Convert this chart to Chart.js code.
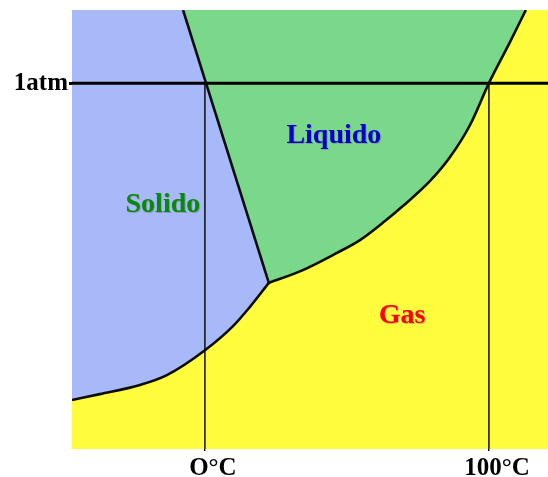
<!DOCTYPE html>
<html>
<head>
<meta charset="utf-8">
<script src="https://cdn.jsdelivr.net/npm/chart.js@4.4.1/dist/chart.umd.min.js"></script>
<style>
  html,body{margin:0;padding:0;background:#fff;}
  #wrap{width:548px;height:477px;}
</style>
</head>
<body>
<div id="wrap"><canvas id="phase" width="548" height="477"></canvas></div>
<script>
// temperatura (°C) en x, presion (atm) en y
const xRange = [-46.8, 120.8];
const yRange = [0, 1.2];

const xTickValues = [0, 100];
const xTickLabels = ["O°C", "100°C"];
const yTickValues = [1];
const yTickLabels = ["1atm"];

// solido-gas (sublimacion), hasta el punto triple
const subT = [-46.8, -37.0, -22.9, -13.4, 0, 9.9, 15.8, 22.5];
const subP = [0.134, 0.150, 0.175, 0.202, 0.270, 0.336, 0.388, 0.454];

// liquido-gas (vaporizacion), desde el punto triple
const vapT = [22.5, 34.5, 46.5, 54.6, 63.4, 69.7, 79.2, 86.3, 93.3, 100, 107.4, 113.0];
const vapP = [0.454, 0.489, 0.536, 0.571, 0.623, 0.664, 0.732, 0.798, 0.885, 1.0, 1.112, 1.2];

// solido-liquido (fusion)
const fusT = [-7.7, 22.5];
const fusP = [1.2, 0.454];

const regionNames = ["Solido", "Liquido", "Gas"];
const regionT = [-14.8, 45.4, 69.4];
const regionP = [0.667, 0.856, 0.364];
const regionColors = ["#078a07", "#0000cc", "#ff0000"];

const serif = "'Times New Roman', 'Liberation Serif', serif";
const pts = (xs, ys) => xs.map((x, i) => ({x, y: ys[i]}));

const solidShape = [{x: xRange[0], y: yRange[1]}]
  .concat(pts(fusT, fusP), pts(subT, subP).reverse());
const liquidShape = pts(vapT, vapP).concat(pts(fusT, fusP));

const line = (data, width, extra) => Object.assign({
  data, borderColor: "#0d0d0d", borderWidth: width,
  pointRadius: 0, fill: false, tension: 0
}, extra || {});

const shape = (data, color) => ({
  data, fill: "shape", backgroundColor: color,
  borderColor: "rgba(0,0,0,0)", borderWidth: 0, pointRadius: 0, tension: 0
});

const chartBg = {
  id: "chartBg",
  beforeDraw(chart){
    const {ctx, chartArea: a} = chart;
    ctx.save();
    ctx.fillStyle = "#fffb3d";
    ctx.fillRect(a.left, a.top, a.right - a.left, a.bottom - a.top);
    ctx.restore();
  }
};

const regionLabels = {
  id: "regionLabels",
  afterDatasetsDraw(chart){
    const {ctx, scales: {x, y}} = chart;
    ctx.save();
    ctx.font = "bold 28px " + serif;
    ctx.textAlign = "center";
    ctx.textBaseline = "middle";
    ctx.shadowColor = "rgba(110,110,110,0.45)";
    ctx.shadowOffsetX = 1;
    ctx.shadowOffsetY = 1;
    ctx.shadowBlur = 0.5;
    regionNames.forEach((n, i) => {
      ctx.fillStyle = regionColors[i];
      ctx.fillText(n, x.getPixelForValue(regionT[i]), y.getPixelForValue(regionP[i]));
    });
    ctx.restore();
  }
};

new Chart(document.getElementById("phase"), {
  type: "line",
  data: {
    datasets: [
      line(pts(subT, subP), 2.6, {cubicInterpolationMode: "monotone"}),
      line(pts(vapT, vapP), 2.6, {cubicInterpolationMode: "monotone"}),
      line(pts(fusT, fusP), 2.6),
      line([{x: xRange[0], y: 1}, {x: xRange[1], y: 1}], 3, {borderColor: "#000"}),
      line([{x: 0, y: 1}, {x: 0, y: 0}], 1.4, {borderColor: "#000"}),
      line([{x: 100, y: 1}, {x: 100, y: 0}], 1.4, {borderColor: "#000"}),
      shape(liquidShape, "#7ad88a"),
      shape(solidShape, "#a7b9f9")
    ]
  },
  options: {
    responsive: false,
    animation: false,
    layout: {padding: {top: 10, right: 0, left: 0, bottom: 0}},
    plugins: {legend: {display: false}, tooltip: {enabled: false}},
    scales: {
      x: {
        type: "linear", min: xRange[0], max: xRange[1],
        afterBuildTicks: s => { s.ticks = xTickValues.map(v => ({value: v})); },
        afterFit: s => { s.height = 28; s.paddingLeft = 0; s.paddingRight = 0; },
        border: {display: false},
        grid: {drawOnChartArea: false, drawTicks: true, tickLength: 2, color: "#000", lineWidth: 1.4},
        ticks: {
          autoSkip: false, maxRotation: 0, padding: 3, labelOffset: 8, color: "#000",
          font: {family: serif, size: 25, weight: "bold"},
          callback: v => xTickLabels[xTickValues.indexOf(v)]
        }
      },
      y: {
        type: "linear", min: yRange[0], max: yRange[1],
        afterBuildTicks: s => { s.ticks = yTickValues.map(v => ({value: v})); },
        afterFit: s => { s.width = 72; s.paddingTop = 0; s.paddingBottom = 0; },
        border: {display: false},
        grid: {drawOnChartArea: false, drawTicks: true, tickLength: 3, color: "#000", lineWidth: 3},
        ticks: {
          autoSkip: false, padding: 1, color: "#000",
          font: {family: serif, size: 25, weight: "bold"},
          callback: v => yTickLabels[yTickValues.indexOf(v)]
        }
      }
    }
  },
  plugins: [chartBg, regionLabels]
});
</script>
</body>
</html>
